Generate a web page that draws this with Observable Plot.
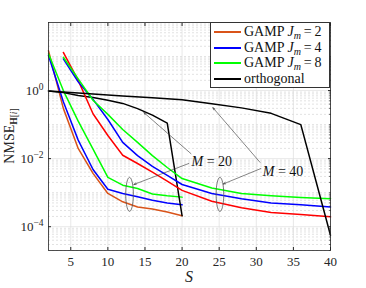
<!DOCTYPE html>
<html><head><meta charset="utf-8">
<script src="https://cdn.jsdelivr.net/npm/d3@7"></script>
<script src="https://cdn.jsdelivr.net/npm/@observablehq/plot@0.6"></script>
<style>
body{margin:0;background:#fff;}
#wrap{position:relative;width:366px;height:288px;font-family:"Liberation Serif",serif;color:#111;}
#wrap svg{position:absolute;left:0;top:0;}
#legend{position:absolute;left:210px;top:22px;width:120px;height:66px;border:0.8px solid #333;background:#fff;font-size:14px;box-sizing:border-box;padding-top:1px;}
.row{display:flex;align-items:center;height:15.7px;white-space:nowrap;}
.row span{font-family:"Liberation Serif",serif;}
.sw{width:27px;height:2px;margin:0 3px 0 3px;flex:none;}
sub{font-size:10px;vertical-align:-3px;line-height:0;}
</style></head><body><div id="wrap"><div id="legend"></div></div>
<script>
// ---- data ----
const S20 = [2, 4, 6, 8, 10, 12, 14, 16, 18, 20];
const gamp2_M20 = [14.8, 0.30, 0.020, 3.7e-3, 9.5e-4, 5.4e-4, 3.8e-4, 3.3e-4, 2.7e-4, 2.1e-4];
const gamp4_M20 = [10.7, 0.47, 0.035, 4.8e-3, 1.26e-3, 9.5e-4, 7.6e-4, 6.0e-4, 5.0e-4, 4.4e-4];
const gamp8_M20 = [12.0, 1.0, 0.126, 0.019, 2.8e-3, 1.66e-3, 1.32e-3, 9.1e-4, 8.1e-4, 7.4e-4];
const orth_M20  = [0.977, 0.87, 0.72, 0.63, 0.52, 0.42, 0.295, 0.19, 0.11, 2.1e-4];

const S40 = [4, 6, 8, 10, 12, 14, 16, 18, 20, 24, 28, 32, 36, 40];
const gamp2_M40 = [13.2, 2.0, 0.209, 0.048, 0.0126, 7.2e-3, 4.0e-3, 2.2e-3, 1.17e-3, 5.6e-4, 3.6e-4, 2.6e-4, 2.3e-4, 1.95e-4];
const gamp4_M40 = [8.5, 1.8, 0.55, 0.141, 0.030, 0.0123, 5.9e-3, 3.2e-3, 1.74e-3, 9.5e-4, 6.6e-4, 5.0e-4, 4.4e-4, 3.8e-4];
const gamp8_M40 = [9.5, 2.2, 0.52, 0.20, 0.072, 0.030, 0.0123, 5.5e-3, 2.6e-3, 1.38e-3, 9.5e-4, 8.1e-4, 7.2e-4, 6.6e-4];

const S40o = [2, 8, 12, 16, 20, 24, 28, 32, 36, 40];
const orth_M40 = [0.966, 0.79, 0.69, 0.62, 0.54, 0.41, 0.31, 0.214, 0.1, 5.6e-5];

const xTicks = [5, 10, 15, 20, 25, 30, 35, 40];
const yLabelTicks = [1e-4, 1e-2, 1];
const yMajorGrid = [1e-4, 1e-2, 1, 100];

const seriesNames = ["g2m20", "g4m20", "g8m20", "orth20", "g2m40", "g4m40", "g8m40", "orth40"];
const seriesColors = ["#D95319", "#0000FF", "#00FF00", "#000000", "#FF0000", "#0000FF", "#00FF00", "#000000"];

const legendLabels = ["GAMP <i>J</i><sub><i>m</i></sub>&thinsp;=&thinsp;2", "GAMP <i>J</i><sub><i>m</i></sub>&thinsp;=&thinsp;4", "GAMP <i>J</i><sub><i>m</i></sub>&thinsp;=&thinsp;8", "orthogonal"];
const legendColors = ["#D95319", "#0000FF", "#00FF00", "#000000"];

// annotations
const annLabels = [{S: 24.0, v: 8.3e-3, t: "M = 20"}, {S: 33.6, v: 4.2e-3, t: "M = 40"}];
const annEllipses = [{S: 12.92, v: 8.9e-4}, {S: 25.1, v: 8.9e-4}];
const annArrows = [
  {S1: 20.9, v1: 7.2e-3, S2: 13.5, v2: 1.74e-3},
  {S1: 21.2, v1: 1.4e-2, S2: 14.85, v2: 0.226},
  {S1: 30.6, v1: 5.1e-3, S2: 25.55, v2: 1.8e-3},
  {S1: 30.5, v1: 7.8e-3, S2: 24.15, v2: 0.315}
];

// ---- build table ----
const rows = [];
function add(name, xs, vs){ xs.forEach((s,i)=>rows.push({S:s, v:vs[i], series:name})); }
add("g2m20", S20, gamp2_M20);
add("g4m20", S20, gamp4_M20);
add("g8m20", S20, gamp8_M20);
add("orth20", S20, orth_M20);
add("g2m40", S40, gamp2_M40);
add("g4m40", S40, gamp4_M40);
add("g8m40", S40, gamp8_M40);
add("orth40", S40o, orth_M40);

const minorY = [];
for (let k = -5; k <= 1; k++) for (let m = 1; m <= 9; m++) {
  const val = m * Math.pow(10, k);
  if (val < 2e-5 || val > 100) continue;
  if (m === 1 && k % 2 === 0) continue;
  minorY.push(val);
}

const ellipseSymbol = {draw(ctx){ const rx = 3.8, ry = 17, n = 48;
  for (let i = 0; i <= n; i++) { const a = 2*Math.PI*i/n; const x = rx*Math.cos(a), y = ry*Math.sin(a); if (i) ctx.lineTo(x,y); else ctx.moveTo(x,y); }
  ctx.closePath(); }};

const font = '"Liberation Serif", serif';
const chart = Plot.plot({
  width: 366, height: 288,
  marginLeft: 48, marginRight: 36, marginTop: 22, marginBottom: 38,
  style: {fontFamily: font, fontSize: "13px", color: "#262626", background: "transparent"},
  x: {domain: [2, 40], label: null},
  y: {type: "log", domain: [2e-5, 100], label: null},
  color: {domain: seriesNames, range: seriesColors},
  marks: [
    Plot.ruleY(minorY, {stroke: "#cfcfcf", strokeDasharray: "2,2", strokeWidth: 0.6}),
    Plot.ruleX(xTicks, {stroke: "#dedede", strokeWidth: 0.7}),
    Plot.ruleY(yMajorGrid, {stroke: "#dedede", strokeWidth: 0.7}),
    Plot.line(rows, {x: "S", y: "v", z: "series", stroke: "series", strokeWidth: 1.5}),
    Plot.dot(annEllipses, {x: "S", y: "v", symbol: ellipseSymbol, fill: "none", stroke: "#555", strokeWidth: 0.8}),
    Plot.arrow(annArrows, {x1: "S1", y1: "v1", x2: "S2", y2: "v2", stroke: "#333", strokeWidth: 0.6, headLength: 6, headAngle: 40}),
    Plot.text(annLabels, {x: "S", y: "v", text: "t", fontSize: 14, fill: "#111"}),
    Plot.axisX({ticks: xTicks, tickSize: 0, tickPadding: 6, fontSize: 13}),
    Plot.axisY({ticks: yLabelTicks, tickSize: 0, tickPadding: 5, fontSize: 13, tickFormat: d => String(Math.round(Math.log10(d)))}),
    Plot.axisX({ticks: xTicks, anchor: "bottom", tickSize: -3, fill: "none", stroke: "#262626"}),
    Plot.axisX({ticks: xTicks, anchor: "top", tickSize: -3, fill: "none", stroke: "#262626"}),
    Plot.axisY({ticks: yLabelTicks, anchor: "left", tickSize: -3, fill: "none", stroke: "#262626"}),
    Plot.axisY({ticks: minorY, anchor: "right", tickSize: -2, fill: "none", stroke: "#262626", strokeWidth: 0.6}),
    Plot.axisY({ticks: yLabelTicks, anchor: "right", tickSize: -3, fill: "none", stroke: "#262626"}),
    Plot.frame({stroke: "#262626", strokeWidth: 0.8})
  ]
});
document.getElementById("wrap").prepend(chart);

const svg = d3.select(chart);
// superscript exponents
svg.selectAll('g[aria-label="y-axis tick label"] text').each(function(){
  const t = d3.select(this); const e = t.text();
  t.text("10");
  t.append("tspan").attr("dy", "-0.5em").attr("font-size", "9.5px").text(e.replace("-", "\u2212"));
});
// italic M in annotations
svg.selectAll("text").filter(function(){ return /^M = /.test(this.textContent); }).each(function(){
  const s = this.textContent; const t = d3.select(this); t.text(null);
  t.append("tspan").attr("font-style", "italic").text("M");
  t.append("tspan").text(s.slice(1));
});
// axis labels
const yl = svg.append("text").attr("transform", "translate(14,136) rotate(-90)")
  .attr("text-anchor", "middle").attr("font-size", 14).attr("font-family", font).attr("fill", "#262626");
yl.append("tspan").text("NMSE");
yl.append("tspan").attr("dy", "0.35em").attr("font-size", 9.5).attr("font-weight", "bold").text("H");
yl.append("tspan").attr("font-size", 9.5).text("[");
yl.append("tspan").attr("font-size", 9.5).attr("font-style", "italic").text("i");
yl.append("tspan").attr("font-size", 9.5).text("]");
svg.append("text").attr("x", 189).attr("y", 282).attr("text-anchor", "middle")
  .attr("font-size", 16).attr("font-style", "italic").attr("font-family", font).attr("fill", "#262626").text("S");

// legend
const lg = d3.select("#legend");
legendLabels.forEach((lab, i) => {
  const r = lg.append("div").attr("class", "row");
  r.append("div").attr("class", "sw").style("background-color", legendColors[i]);
  r.append("span").html(lab);
});
</script>
</body></html>
